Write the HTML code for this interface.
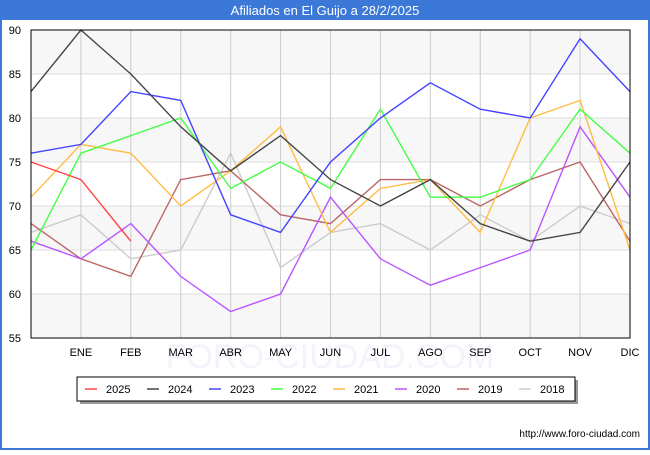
<!DOCTYPE html>
<html><head><meta charset="utf-8"><style>
body{margin:0;width:650px;height:450px;background:#fff;font-family:"Liberation Sans",sans-serif;overflow:hidden}
</style></head><body>
<svg width="650" height="450" font-family="Liberation Sans, sans-serif">
<rect x="0" y="0" width="650" height="450" fill="#3b78d8"/>
<rect x="2" y="20" width="646" height="428" fill="#fff"/>
<text x="325" y="15" fill="#fff" font-size="13" text-anchor="middle">Afiliados en El Guijo a 28/2/2025</text>
<text x="330" y="368" font-size="34" text-anchor="middle" fill="#f2f3fb">FORO-CIUDAD.COM</text>
<g id="plot"></g>
<text x="640" y="437" font-size="10" text-anchor="end" fill="#000">http://www.foro-ciudad.com</text>
</svg>
<script>
const categories=["","ENE","FEB","MAR","ABR","MAY","JUN","JUL","AGO","SEP","OCT","NOV","DIC"];
const yTicks=[55,60,65,70,75,80,85,90];
const seriesNames=["2025","2024","2023","2022","2021","2020","2019","2018"];
const seriesColors=["#ff4444","#444444","#4444ff","#44ff44","#ffbb44","#bb55ff","#bb6666","#cccccc"];
const s2025=[75,73,66];
const s2024=[83,90,85,79,74,78,73,70,73,68,66,67,75];
const s2023=[76,77,83,82,69,67,75,80,84,81,80,89,83];
const s2022=[65,76,78,80,72,75,72,81,71,71,73,81,76];
const s2021=[71,77,76,70,74,79,67,72,73,67,80,82,65];
const s2020=[66,64,68,62,58,60,71,64,61,63,65,79,71];
const s2019=[68,64,62,73,74,69,68,73,73,70,73,75,66];
const s2018=[67,69,64,65,76,63,67,68,65,69,66,70,68];
const seriesData=[s2025,s2024,s2023,s2022,s2021,s2020,s2019,s2018];
const NS="http://www.w3.org/2000/svg";
const g=document.getElementById('plot');
const X0=31,X1=630,Y0=30,Y1=338,ymin=55,ymax=90;
const xs=i=>X0+i*(X1-X0)/(categories.length-1);
const ys=v=>Y1-(v-ymin)/(ymax-ymin)*(Y1-Y0);
function mk(t,a){const e=document.createElementNS(NS,t);for(const k in a)e.setAttribute(k,a[k]);g.appendChild(e);return e;}
let bg=mk('rect',{x:X0,y:Y0,width:X1-X0,height:Y1-Y0,fill:'#fff'});


for(let i=0;i<yTicks.length-1;i++){
 if(i%2===0){let b=mk('rect',{x:X0,y:ys(yTicks[i+1]),width:X1-X0,height:ys(yTicks[i])-ys(yTicks[i+1]),fill:'#f7f7f7'});
 
 }
}
yTicks.forEach(v=>{
 let l=mk('line',{x1:X0,x2:X1,y1:ys(v),y2:ys(v),stroke:'#dddddd','stroke-width':1});
 
 
 let t=mk('text',{x:X0-10,y:ys(v)+4,'font-size':11,'text-anchor':'end',fill:'#000'});t.textContent=v;
 
 
});
categories.forEach((c,i)=>{
 if(i===0)return;
 let l=mk('line',{x1:xs(i),x2:xs(i),y1:Y0,y2:Y1,stroke:'#cccccc','stroke-width':1});
 
 
 let t=mk('text',{x:xs(i),y:Y1+18,'font-size':11,'text-anchor':'middle',fill:'#000'});t.textContent=c;
 
 
});
for(let s=seriesData.length-1;s>=0;s--){
 const pts=seriesData[s].map((v,i)=>xs(i)+','+ys(v)).join(' ');
 let p=mk('polyline',{points:pts,fill:'none',stroke:seriesColors[s],'stroke-width':1.4});
 
 
}
let fr=mk('rect',{x:X0,y:Y0,width:X1-X0,height:Y1-Y0,fill:'none',stroke:'#000','stroke-width':1});


let sh=mk('rect',{x:80,y:380,width:498,height:24,fill:'#999'});


let lg=mk('rect',{x:77,y:377,width:498,height:24,fill:'#fff',stroke:'#000','stroke-width':1});


seriesNames.forEach((n,i)=>{
 const x=85+i*62;
 let l=mk('line',{x1:x,x2:x+12,y1:389,y2:389,stroke:seriesColors[i],'stroke-width':1.5});
 
 
 let t=mk('text',{x:x+21,y:393,'font-size':11,fill:'#000'});t.textContent=n;
 
 
});
</script>
</body></html>
